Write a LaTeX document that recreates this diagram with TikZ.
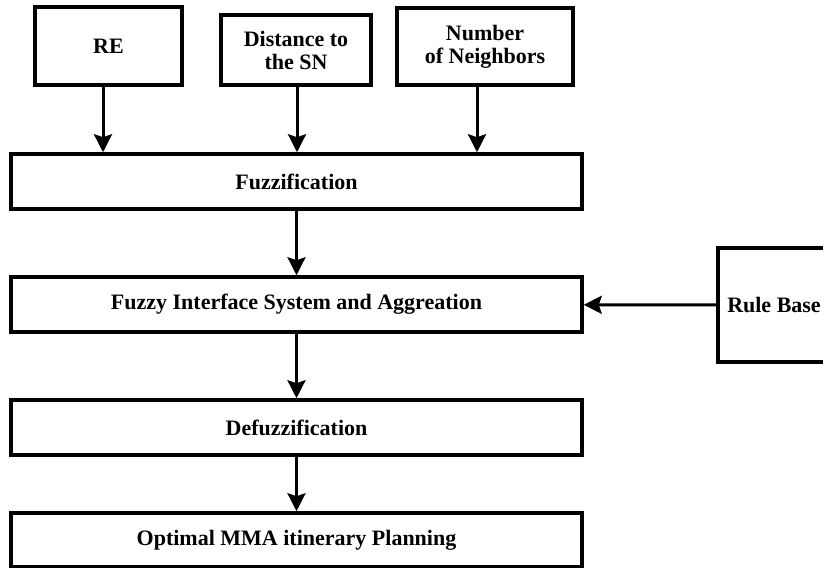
\documentclass[tikz,border=0pt]{standalone}
\usepackage{fontspec}
\setmainfont{Liberation Serif}
\usetikzlibrary{arrows.meta}

\begin{document}
\begin{tikzpicture}[x=1pt,y=-1pt,
  blockbox/.style={draw,line width=3.5pt,inner sep=0pt,align=center,
    font=\fontsize{22}{23}\selectfont\bfseries},
  flowarrow/.style={line width=3pt,-{Stealth[length=18pt,width=18pt,inset=3pt]}}]
\useasboundingbox (0,0) rectangle (823,568);
\clip (0,0) rectangle (823,568);
\node[blockbox,minimum width=147pt,minimum height=78pt] (re) at (108.5,46) {RE};
\node[blockbox,minimum width=150pt,minimum height=70pt] (dist) at (296,50) {Distance to\\the SN};
\node[blockbox,minimum width=176pt,minimum height=77pt] (nbr) at (485,46.5) {Number\\of Neighbors};
\node[blockbox,minimum width=571pt,minimum height=55pt] (fuzz) at (296.5,181.5) {Fuzzification};
\node[blockbox,minimum width=571pt,minimum height=55pt] (fis) at (296.5,304.5) {Fuzzy Interface System and Aggreation};
\node[blockbox,minimum width=571pt,minimum height=55pt] (defuzz) at (296.5,427.5) {Defuzzification};
\node[blockbox,minimum width=571pt,minimum height=54pt] (opt) at (296.5,540) {Optimal MMA itinerary Planning};
\node[blockbox,minimum width=112pt,minimum height=114pt] (rule) at (774,305) {Rule Base};
\draw[flowarrow] ([xshift=-5.5pt]re.south) -- ([xshift=-5.5pt]re.south |- fuzz.north);
\draw[flowarrow] ([xshift=1pt]dist.south) -- ([xshift=1pt]dist.south |- fuzz.north);
\draw[flowarrow] ([xshift=-8pt]nbr.south) -- ([xshift=-8pt]nbr.south |- fuzz.north);
\draw[flowarrow] (fuzz) -- (fis);
\draw[flowarrow] (fis) -- (defuzz);
\draw[flowarrow] (defuzz) -- (opt);
\draw[flowarrow] (rule) -- (fis);
\end{tikzpicture}
\end{document}
